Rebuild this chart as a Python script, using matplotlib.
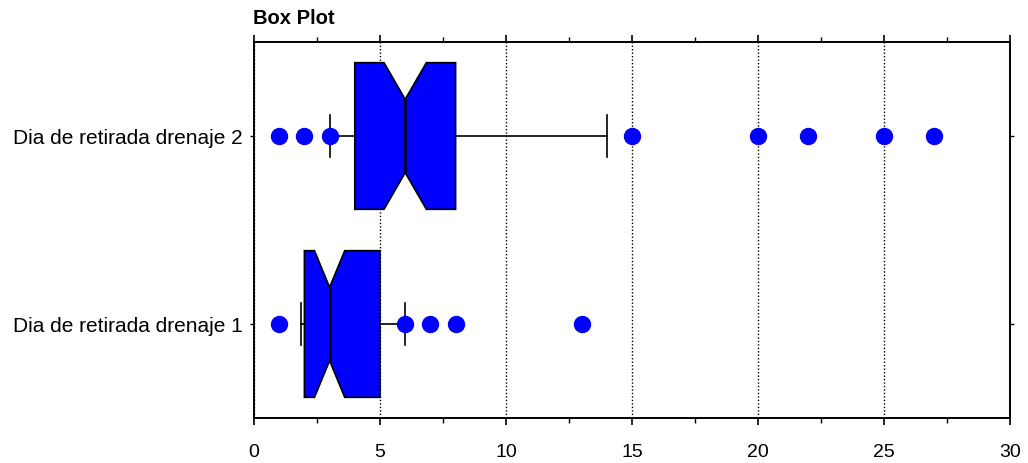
import matplotlib
matplotlib.use("Agg")
import matplotlib.pyplot as plt
from matplotlib.ticker import MultipleLocator

plt.rcParams['font.family'] = ['Liberation Sans', 'DejaVu Sans']

# box plot summary values
labels = ["Dia de retirada drenaje 1", "Dia de retirada drenaje 2"]
q1 = [2, 4]
med = [3, 6]
q3 = [5, 8]
ci_lo = [2.4, 5.16]
ci_hi = [3.6, 6.84]
whis_lo = [1.85, 3]
whis_hi = [6, 14]
fliers = [[1, 6, 7, 8, 13], [1, 2, 3, 15, 20, 22, 25, 27]]

stats = []
for i in range(len(labels)):
    stats.append({"label": labels[i], "q1": q1[i], "med": med[i], "q3": q3[i],
                  "cilo": ci_lo[i], "cihi": ci_hi[i],
                  "whislo": whis_lo[i], "whishi": whis_hi[i], "fliers": fliers[i]})

fig = plt.figure(figsize=(10.28, 4.63), dpi=100)
ax = fig.add_axes([254 / 1028, 1 - 418 / 463, 756 / 1028, 376 / 463])

ax.bxp(stats, positions=[1, 2], widths=0.78, capwidths=0.22, vert=False,
       shownotches=True, patch_artist=True,
       boxprops=dict(facecolor="#0000ff", edgecolor="black", linewidth=1.2),
       medianprops=dict(color="black", linewidth=1.8),
       whiskerprops=dict(color="black", linewidth=1.2),
       capprops=dict(color="black", linewidth=1.2),
       flierprops=dict(marker="o", markerfacecolor="#0000ff", markeredgecolor="#0000ff",
                       markersize=11.5, linestyle="none"))

ax.set_xlim(0, 30)
ax.set_ylim(0.5, 2.5)
ax.xaxis.set_major_locator(MultipleLocator(5))
ax.xaxis.set_minor_locator(MultipleLocator(2.5))
ax.grid(axis="x", which="major", color="black", linestyle=(0, (1, 1.5)), linewidth=1.0)
ax.set_axisbelow(True)

ax.tick_params(axis="x", which="major", direction="out", length=5, width=1.2,
               top=True, bottom=True, labelsize=14, pad=14)
ax.tick_params(axis="x", which="minor", direction="out", length=3.5, width=1,
               top=True, bottom=True)
ax.tick_params(axis="y", direction="out", length=3, width=1, left=True, right=True,
               labelsize=15, pad=5)
for s in ax.spines.values():
    s.set_linewidth(1.4)

fig.text(253 / 1028, 1 - 24 / 463, "Box Plot", fontsize=14.5, fontweight="bold",
         ha="left", va="baseline")

fig.savefig("out.png", dpi=100)
